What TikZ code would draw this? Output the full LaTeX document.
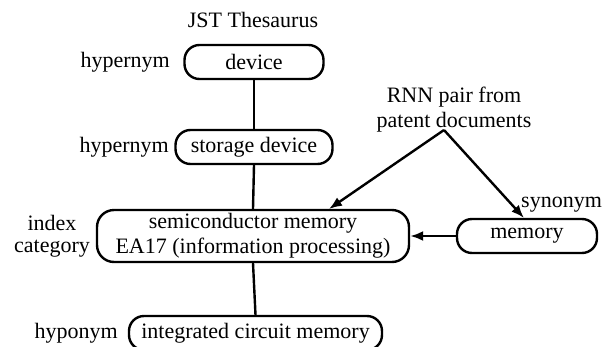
\documentclass[tikz,border=0pt]{standalone}
\usepackage{fontspec}
\setmainfont{Liberation Serif}
\usetikzlibrary{arrows.meta}
\begin{document}
\begin{tikzpicture}[x=1pt,y=-1pt,
  every node/.style={font=\fontsize{22}{26}\selectfont, inner sep=0pt},
  termbox/.style={draw, line width=2.4pt, rounded corners=15pt, minimum height=34pt},
  link/.style={line width=2.4pt},
  arr/.style={line width=2.4pt, -{Latex[length=13pt,width=10pt]}}]
\useasboundingbox (0,0) rectangle (611,346);
\clip (0,0) rectangle (611,346);
\node (title) at (253,20) {JST Thesaurus};
\node[termbox, minimum width=139pt] (device) at (254,62) {device};
\node[anchor=east] (hyp1) at (170,62) {hypernym};
\node[termbox, minimum width=157pt] (storage) at (254,147) {storage device};
\node[anchor=east] (hyp2) at (169,147) {hypernym};
\node[termbox, minimum width=312pt, minimum height=52pt, rounded corners=17pt, align=center] (semi) at (253,236) {semiconductor memory\\[-1pt]EA17 (information processing)};
\node[align=center] (idx) at (52,236) {index\\[-4pt]category};
\node[termbox, minimum width=140pt] (mem) at (527,236) {memory};
\node[anchor=west] (syn) at (521,205) {synonym};
\node[align=center] (rnn) at (454,110) {RNN pair from\\[-1pt]patent documents};
\node[termbox, minimum width=253pt] (ic) at (255.5,333) {integrated circuit memory};
\node[anchor=east] (hypo) at (118,333) {hyponym};
\coordinate (apex) at (444,130);
\coordinate (semiT) at (329,209);
\coordinate (memT) at (524,218);
\draw[link] (device.south) -- (storage.north);
\draw[link] (storage.south) -- (semi.north);
\draw[link] (semi.south) -- (ic.north);
\draw[arr] (apex) -- (semiT);
\draw[arr] (apex) -- (memT);
\draw[arr] (mem.west) -- (semi.east);
\end{tikzpicture}
\end{document}
